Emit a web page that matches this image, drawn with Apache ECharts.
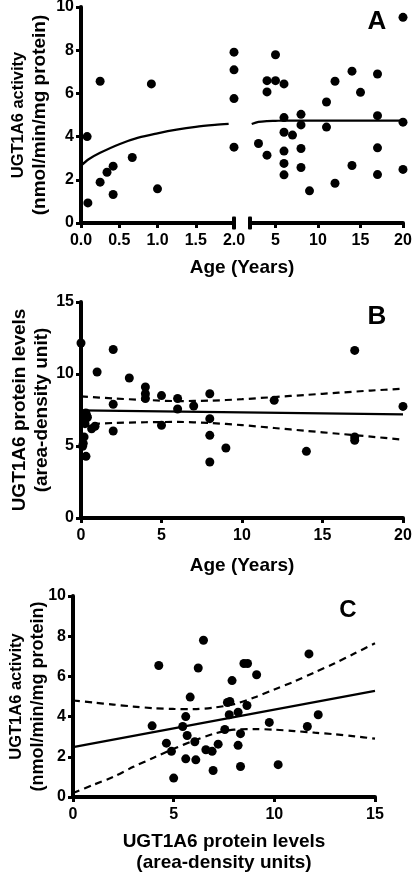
<!DOCTYPE html>
<html>
<head>
<meta charset="utf-8">
<script src="https://cdn.jsdelivr.net/npm/echarts@6/dist/echarts.min.js"></script>
<style>html,body{margin:0;padding:0;background:#fff}#c{width:414px;height:873px}</style>
</head>
<body>
<div id="c"></div>
<script>
// Panel A: UGT1A6 activity vs age
const ageA = [0.08, 0.09, 0.25, 0.25, 0.34, 0.42, 0.42, 0.67, 0.92, 1.0, 2, 2, 2, 2,
  3, 4, 4, 4, 5, 5, 6, 6, 6, 6, 6, 6, 7, 8, 8, 8, 8, 9, 11, 11, 12, 12, 14, 14, 15, 17, 17, 17, 17, 20, 20, 20];
const actA = [4.0, 0.93, 1.89, 6.56, 2.35, 2.63, 1.32, 3.03, 6.44, 1.58, 7.91, 7.09, 5.76, 3.51,
  3.68, 6.59, 6.07, 3.14, 7.79, 6.59, 6.44, 4.88, 4.2, 3.33, 2.76, 2.23, 4.07, 5.03, 4.54, 3.45, 2.57, 1.49,
  5.6, 4.44, 6.56, 1.84, 7.03, 2.66, 6.05, 6.9, 4.97, 3.48, 2.24, 9.52, 4.67, 2.48];
const fitAgeA = [0, 0.1, 0.25, 0.5, 0.75, 1.0, 1.25, 1.5, 1.75, 1.93, 2.2, 3, 4, 5, 6, 8, 10, 15, 20];
const fitActA = [2.65, 2.95, 3.25, 3.65, 3.95, 4.15, 4.32, 4.45, 4.54, 4.59, 4.58, 4.68, 4.72, 4.73, 4.74, 4.74, 4.74, 4.74, 4.74];
const ticksA2 = [5, 10, 15, 20];

// Panel B: UGT1A6 protein levels vs age
const ageB = [0, 0.1, 0.31, 0.19, 0.14, 0.35, 0.25, 0.25, 0.3, 0.4, 0.2, 0.66, 0.87, 1.0, 2, 2, 2, 3, 4, 4, 4,
  5, 5, 6, 6, 7, 8, 8, 8, 8, 9, 12, 14, 17, 17, 17, 20];
const levelB = [12.15, 4.98, 4.28, 5.63, 5.17, 7.13, 6.8, 6.55, 7.3, 7.0, 6.9, 6.2, 6.37, 10.14, 11.7, 7.9, 6.04, 9.72, 9.1, 8.63, 8.3,
  8.5, 6.44, 8.3, 7.57, 7.78, 8.63, 6.9, 5.74, 3.89, 4.86, 8.17, 4.63, 11.64, 5.63, 5.4, 7.75];
const fitAgeB = [0, 20];
const fitLevelB = [7.48, 7.2];
const ciAgeB = [0, 2, 4, 6, 8, 10, 12, 14, 16, 18, 20];
const ciUpperB = [8.45, 8.3, 8.2, 8.12, 8.15, 8.25, 8.4, 8.55, 8.7, 8.85, 8.98];
const ciLowerB = [6.5, 6.6, 6.65, 6.67, 6.6, 6.45, 6.25, 6.05, 5.85, 5.65, 5.44];

// Panel C: activity vs protein levels
const protC = [3.93, 4.26, 4.64, 4.89, 5.0, 5.45, 5.6, 5.67, 5.6, 5.82, 6.05, 6.1, 6.22, 6.48, 6.6, 6.91, 6.96, 7.21,
  7.54, 7.67, 7.79, 7.76, 7.9, 8.2, 8.2, 8.32, 8.32, 8.49, 8.67, 8.64, 9.12, 9.75, 10.19, 11.64, 11.72, 12.18];
const actC = [3.54, 6.54, 2.68, 2.27, 0.94, 3.51, 4.0, 3.06, 1.9, 4.97, 2.75, 1.85, 6.42, 7.8, 2.35, 2.27, 1.32, 2.63,
  3.36, 4.7, 4.75, 4.09, 5.79, 4.22, 2.57, 1.52, 3.15, 6.64, 6.64, 4.55, 6.08, 3.71, 1.61, 3.51, 7.12, 4.09];
const fitProtC = [0, 15];
const fitActC = [2.48, 5.28];
const ciProtC = [0, 1, 2, 3, 4, 5, 6, 7, 8, 9, 10, 11, 12, 13, 14, 15];
const ciUpperC = [4.8, 4.7, 4.6, 4.5, 4.42, 4.38, 4.37, 4.45, 4.62, 4.95, 5.35, 5.75, 6.2, 6.65, 7.15, 7.65];
const ciLowerC = [0.2, 0.6, 1.0, 1.5, 1.95, 2.4, 2.8, 3.15, 3.35, 3.38, 3.35, 3.28, 3.2, 3.12, 3.02, 2.9];

const FONT = '"Liberation Sans", Arial, sans-serif';
const zip = (xs, ys) => xs.map((x, i) => [x, ys[i]]);
const lab = {color: '#000', fontWeight: 'bold', fontSize: 16, fontFamily: FONT};
const nameStyle = {color: '#000', fontWeight: 'bold', fontSize: 19, fontFamily: FONT, lineHeight: 22};
const richName = (s1, s2) => Object.assign({}, nameStyle, {rich: {
  a: {color: '#000', fontWeight: 'bold', fontFamily: FONT, fontSize: s1, lineHeight: 22},
  b: {color: '#000', fontWeight: 'bold', fontFamily: FONT, fontSize: s2, lineHeight: 22}}});
const axLine = {show: true, lineStyle: {color: '#000', width: 4}};
const tick = {show: true, length: 5, lineStyle: {color: '#000', width: 3}};

function xAx(grid, min, max, interval, extra) {
  return Object.assign({type: 'value', gridIndex: grid, min, max, interval, nameMoveOverlap: false,
    axisLine: Object.assign({}, axLine), axisTick: Object.assign({}, tick),
    axisLabel: Object.assign({margin: 10}, lab), splitLine: {show: false}}, extra || {});
}
function yAx(grid, min, max, interval, extra) {
  return Object.assign({type: 'value', gridIndex: grid, min, max, interval, nameMoveOverlap: false,
    axisLine: Object.assign({}, axLine), axisTick: Object.assign({}, tick),
    axisLabel: Object.assign({margin: 7}, lab), splitLine: {show: false}}, extra || {});
}
const dot = (xi, yi, data) => ({type: 'scatter', xAxisIndex: xi, yAxisIndex: yi, data, symbolSize: 9,
  itemStyle: {color: '#000', opacity: 1}, z: 5});
const line = (xi, yi, data, dashed) => ({type: 'line', xAxisIndex: xi, yAxisIndex: yi, data, showSymbol: false,
  symbol: 'none', smooth: 0.3, lineStyle: {color: '#000', width: 2.2, type: dashed ? [7, 5] : 'solid'}, z: 4});

const ptsA = zip(ageA, actA);
const fitA = zip(fitAgeA, fitActA);
const g = (o) => Object.assign({outerBoundsMode: 'none', containLabel: false}, o);

const option = {
  animation: false,
  backgroundColor: '#fff',
  grid: [
    g({left: 81, top: 7, width: 153, height: 216}),
    g({left: 250, top: 7, width: 153, height: 216}),
    g({left: 81, top: 302, width: 322, height: 216}),
    g({left: 73, top: 596, width: 302, height: 201})
  ],
  xAxis: [
    xAx(0, 0, 2, 0.5, {axisLabel: Object.assign({margin: 10, formatter: v => v.toFixed(1)}, lab),
      axisLine: {show: true, lineStyle: {color: '#000', width: 4}, symbol: ['none', 'roundRect'], symbolSize: [13, 4]}}),
    xAx(1, 2, 20, null, {
      axisLabel: Object.assign({margin: 10, customValues: ticksA2}, lab),
      axisTick: Object.assign({customValues: ticksA2}, tick),
      axisLine: {show: true, lineStyle: {color: '#000', width: 4}, symbol: ['roundRect', 'none'], symbolSize: [13, 4]}}),
    xAx(2, 0, 20, 5, {name: 'Age (Years)', nameLocation: 'middle', nameGap: 37, nameTextStyle: nameStyle}),
    xAx(3, 0, 15, 5, {name: 'UGT1A6 protein levels\n(area-density units)', nameLocation: 'middle', nameGap: 34,
      nameTextStyle: Object.assign({}, nameStyle, {lineHeight: 21})})
  ],
  yAxis: [
    yAx(0, 0, 10, 2, {name: '{a|UGT1A6 activity}\n{b|(nmol/min/mg protein)}', nameLocation: 'middle', nameGap: 30,
      nameRotate: 90, nameTextStyle: richName(16.5, 19)}),
    yAx(1, 0, 10, 2, {show: false}),
    yAx(2, 0, 15, 5, {name: 'UGT1A6 protein levels\n(area-density unit)', nameLocation: 'middle', nameGap: 28,
      nameRotate: 90, nameTextStyle: nameStyle}),
    yAx(3, 0, 10, 2, {name: '{a|UGT1A6 activity}\n{b|(nmol/min/mg protein)}', nameLocation: 'middle', nameGap: 24,
      nameRotate: 90, nameTextStyle: richName(16.5, 18)})
  ],
  series: [
    dot(0, 0, ptsA.filter(p => p[0] <= 2)),
    dot(1, 1, ptsA.filter(p => p[0] > 2)),
    line(0, 0, fitA.filter(p => p[0] < 2)),
    line(1, 1, fitA.filter(p => p[0] > 2)),
    dot(2, 2, zip(ageB, levelB)),
    line(2, 2, zip(fitAgeB, fitLevelB)),
    line(2, 2, zip(ciAgeB, ciUpperB), true),
    line(2, 2, zip(ciAgeB, ciLowerB), true),
    dot(3, 3, zip(protC, actC)),
    line(3, 3, zip(fitProtC, fitActC)),
    line(3, 3, zip(ciProtC, ciUpperC), true),
    line(3, 3, zip(ciProtC, ciLowerC), true)
  ],
  graphic: [
    {type: 'text', x: 377, y: 22, style: {text: 'A', font: 'bold 26px ' + FONT, fill: '#000', align: 'center', verticalAlign: 'middle'}},
    {type: 'text', x: 377, y: 317, style: {text: 'B', font: 'bold 26px ' + FONT, fill: '#000', align: 'center', verticalAlign: 'middle'}},
    {type: 'text', x: 348, y: 610, style: {text: 'C', font: 'bold 24px ' + FONT, fill: '#000', align: 'center', verticalAlign: 'middle'}},
    {type: 'text', x: 242, y: 268, style: {text: 'Age (Years)', font: 'bold 19px ' + FONT, fill: '#000', align: 'center', verticalAlign: 'middle'}}
  ]
};
const chart = echarts.init(document.getElementById('c'), null, {renderer: 'canvas'});
chart.setOption(option);
</script>
</body>
</html>
